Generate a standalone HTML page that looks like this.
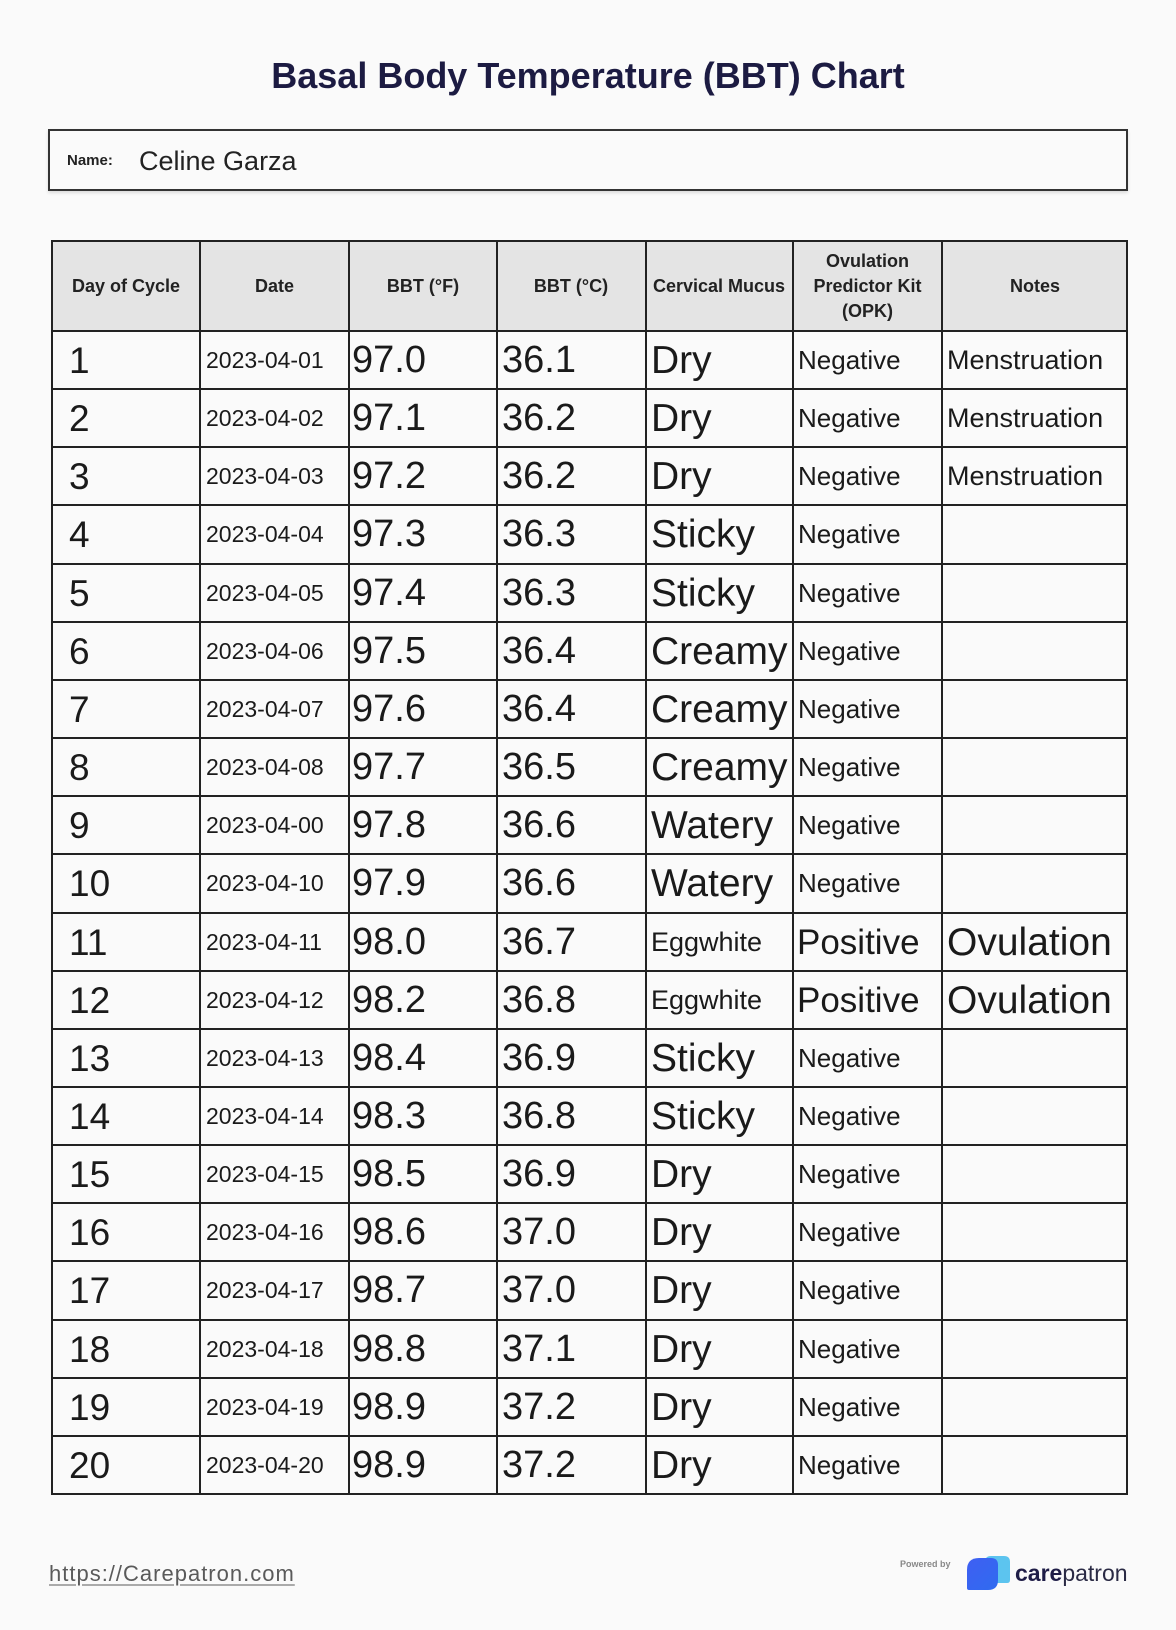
<!DOCTYPE html>
<html>
<head>
<meta charset="utf-8">
<style>
  html,body{margin:0;padding:0;}
  body{width:1176px;height:1630px;background:#fafafa;position:relative;overflow:hidden;font-family:"Liberation Sans",Arial,sans-serif;color:#1a1a1a;}
  .abs{position:absolute;}
  .title{position:absolute;left:0;top:56px;width:1176px;text-align:center;font-size:36px;line-height:40px;font-weight:bold;color:#1c1b42;}
  .namebox{position:absolute;left:48px;top:129px;width:1080px;height:62px;box-sizing:border-box;border:2px solid #333;box-shadow:0 2px 3px rgba(0,0,0,0.12);background:#fafafa;}
  .namelbl{position:absolute;left:67px;top:150px;line-height:22px;font-size:15px;font-weight:bold;color:#222;}
  .nameval{position:absolute;left:139px;top:143px;line-height:36px;font-size:27px;color:#222;}
  .hdrbg{position:absolute;left:52px;top:241px;width:1075px;height:90px;background:#e4e4e4;}
  .vl{position:absolute;top:240px;width:2px;height:1255px;background:#222;}
  .hl{position:absolute;left:51px;width:1077px;height:2px;background:#222;}
  .hd{position:absolute;top:241px;height:90px;display:flex;align-items:center;justify-content:center;text-align:center;font-weight:bold;font-size:18px;line-height:25px;color:#222;}
  .row{position:absolute;left:0;width:1176px;height:58px;line-height:59px;}
  .row span{position:absolute;top:0;white-space:nowrap;color:#1a1a1a;}
  .c1{left:69px;font-size:37px;}
  .c2{left:206px;font-size:23px;}
  .c3{left:352px;font-size:38px;}
  .c4{left:502px;font-size:38px;}
  .c5{left:651px;font-size:39px;}
  .c5.s{font-size:27px;}
  .c6{left:798px;font-size:26px;}
  .c6.p{left:797px;font-size:35px;}
  .c7{left:947px;font-size:27px;}
  .c7.o{font-size:39px;}
  .url{position:absolute;left:49px;top:1560px;line-height:28px;font-size:22px;letter-spacing:1px;color:#5a5a5a;text-decoration:underline;text-decoration-color:#aaa;text-decoration-thickness:2px;text-underline-offset:3px;}
  .pow{position:absolute;left:900px;top:1559px;font-size:9px;line-height:10px;font-weight:bold;color:#888;}
  .brand{position:absolute;left:1015px;top:1558px;font-size:23px;line-height:30px;color:#2a2a44;}
  .brand b{color:#1f1d47;}
</style>
</head>
<body>
  <div class="title">Basal Body Temperature (BBT) Chart</div>

  <div class="namebox"></div>
  <div class="namelbl">Name:</div>
  <div class="nameval">Celine Garza</div>

  <div class="hdrbg"></div>

  <div class="hd" style="left:52px;width:148px;">Day of Cycle</div>
  <div class="hd" style="left:200px;width:149px;">Date</div>
  <div class="hd" style="left:349px;width:148px;">BBT (°F)</div>
  <div class="hd" style="left:497px;width:148px;">BBT (°C)</div>
  <div class="hd" style="left:645px;width:148px;">Cervical Mucus</div>
  <div class="hd" style="left:793px;width:149px;">Ovulation<br>Predictor Kit<br>(OPK)</div>
  <div class="hd" style="left:942px;width:186px;">Notes</div>

  <div class="vl" style="left:51px;"></div>
  <div class="vl" style="left:199px;"></div>
  <div class="vl" style="left:348px;"></div>
  <div class="vl" style="left:496px;"></div>
  <div class="vl" style="left:645px;"></div>
  <div class="vl" style="left:792px;"></div>
  <div class="vl" style="left:941px;"></div>
  <div class="vl" style="left:1126px;"></div>

  <div class="hl" style="top:240px;"></div>
  <div class="hl" style="top:330px;"></div>
  <div class="hl" style="top:388.15px;"></div>
  <div class="hl" style="top:446.3px;"></div>
  <div class="hl" style="top:504.45px;"></div>
  <div class="hl" style="top:562.6px;"></div>
  <div class="hl" style="top:620.75px;"></div>
  <div class="hl" style="top:678.9px;"></div>
  <div class="hl" style="top:737.05px;"></div>
  <div class="hl" style="top:795.2px;"></div>
  <div class="hl" style="top:853.35px;"></div>
  <div class="hl" style="top:911.5px;"></div>
  <div class="hl" style="top:969.65px;"></div>
  <div class="hl" style="top:1027.8px;"></div>
  <div class="hl" style="top:1085.95px;"></div>
  <div class="hl" style="top:1144.1px;"></div>
  <div class="hl" style="top:1202.25px;"></div>
  <div class="hl" style="top:1260.4px;"></div>
  <div class="hl" style="top:1318.55px;"></div>
  <div class="hl" style="top:1376.7px;"></div>
  <div class="hl" style="top:1434.85px;"></div>
  <div class="hl" style="top:1493px;"></div>

  <div class="row" style="top:331px;"><span class="c1">1</span><span class="c2">2023-04-01</span><span class="c3">97.0</span><span class="c4">36.1</span><span class="c5">Dry</span><span class="c6">Negative</span><span class="c7">Menstruation</span></div>
  <div class="row" style="top:389.15px;"><span class="c1">2</span><span class="c2">2023-04-02</span><span class="c3">97.1</span><span class="c4">36.2</span><span class="c5">Dry</span><span class="c6">Negative</span><span class="c7">Menstruation</span></div>
  <div class="row" style="top:447.3px;"><span class="c1">3</span><span class="c2">2023-04-03</span><span class="c3">97.2</span><span class="c4">36.2</span><span class="c5">Dry</span><span class="c6">Negative</span><span class="c7">Menstruation</span></div>
  <div class="row" style="top:505.45px;"><span class="c1">4</span><span class="c2">2023-04-04</span><span class="c3">97.3</span><span class="c4">36.3</span><span class="c5">Sticky</span><span class="c6">Negative</span></div>
  <div class="row" style="top:563.6px;"><span class="c1">5</span><span class="c2">2023-04-05</span><span class="c3">97.4</span><span class="c4">36.3</span><span class="c5">Sticky</span><span class="c6">Negative</span></div>
  <div class="row" style="top:621.75px;"><span class="c1">6</span><span class="c2">2023-04-06</span><span class="c3">97.5</span><span class="c4">36.4</span><span class="c5">Creamy</span><span class="c6">Negative</span></div>
  <div class="row" style="top:679.9px;"><span class="c1">7</span><span class="c2">2023-04-07</span><span class="c3">97.6</span><span class="c4">36.4</span><span class="c5">Creamy</span><span class="c6">Negative</span></div>
  <div class="row" style="top:738.05px;"><span class="c1">8</span><span class="c2">2023-04-08</span><span class="c3">97.7</span><span class="c4">36.5</span><span class="c5">Creamy</span><span class="c6">Negative</span></div>
  <div class="row" style="top:796.2px;"><span class="c1">9</span><span class="c2">2023-04-00</span><span class="c3">97.8</span><span class="c4">36.6</span><span class="c5">Watery</span><span class="c6">Negative</span></div>
  <div class="row" style="top:854.35px;"><span class="c1">10</span><span class="c2">2023-04-10</span><span class="c3">97.9</span><span class="c4">36.6</span><span class="c5">Watery</span><span class="c6">Negative</span></div>
  <div class="row" style="top:912.5px;"><span class="c1">11</span><span class="c2">2023-04-11</span><span class="c3">98.0</span><span class="c4">36.7</span><span class="c5 s">Eggwhite</span><span class="c6 p">Positive</span><span class="c7 o">Ovulation</span></div>
  <div class="row" style="top:970.65px;"><span class="c1">12</span><span class="c2">2023-04-12</span><span class="c3">98.2</span><span class="c4">36.8</span><span class="c5 s">Eggwhite</span><span class="c6 p">Positive</span><span class="c7 o">Ovulation</span></div>
  <div class="row" style="top:1028.8px;"><span class="c1">13</span><span class="c2">2023-04-13</span><span class="c3">98.4</span><span class="c4">36.9</span><span class="c5">Sticky</span><span class="c6">Negative</span></div>
  <div class="row" style="top:1086.95px;"><span class="c1">14</span><span class="c2">2023-04-14</span><span class="c3">98.3</span><span class="c4">36.8</span><span class="c5">Sticky</span><span class="c6">Negative</span></div>
  <div class="row" style="top:1145.1px;"><span class="c1">15</span><span class="c2">2023-04-15</span><span class="c3">98.5</span><span class="c4">36.9</span><span class="c5">Dry</span><span class="c6">Negative</span></div>
  <div class="row" style="top:1203.25px;"><span class="c1">16</span><span class="c2">2023-04-16</span><span class="c3">98.6</span><span class="c4">37.0</span><span class="c5">Dry</span><span class="c6">Negative</span></div>
  <div class="row" style="top:1261.4px;"><span class="c1">17</span><span class="c2">2023-04-17</span><span class="c3">98.7</span><span class="c4">37.0</span><span class="c5">Dry</span><span class="c6">Negative</span></div>
  <div class="row" style="top:1319.55px;"><span class="c1">18</span><span class="c2">2023-04-18</span><span class="c3">98.8</span><span class="c4">37.1</span><span class="c5">Dry</span><span class="c6">Negative</span></div>
  <div class="row" style="top:1377.7px;"><span class="c1">19</span><span class="c2">2023-04-19</span><span class="c3">98.9</span><span class="c4">37.2</span><span class="c5">Dry</span><span class="c6">Negative</span></div>
  <div class="row" style="top:1435.85px;"><span class="c1">20</span><span class="c2">2023-04-20</span><span class="c3">98.9</span><span class="c4">37.2</span><span class="c5">Dry</span><span class="c6">Negative</span></div>

  <div class="url">https://Carepatron.com</div>
  <div class="pow">Powered by</div>
  <svg class="abs" style="left:960px;top:1550px;" width="56" height="46" viewBox="0 0 56 46">
    <defs>
      <linearGradient id="g1" x1="0" y1="0" x2="1" y2="1">
        <stop offset="0" stop-color="#3f5ff2"/>
        <stop offset="1" stop-color="#2f6bf0"/>
      </linearGradient>
    </defs>
    <path d="M25 12 Q25 6 31 6 L44 6 Q50 6 50 12 L50 30 Q50 33 47 33 L25 33 Z" fill="#5cc4ef"/>
    <path d="M7 38 L7 20 Q7 8 19 8 L31 8 Q38 8 38 15 L38 30 Q38 40 28 40 L9 40 Q7 40 7 38 Z" fill="url(#g1)"/>
  </svg>
  <div class="brand"><b>care</b>patron</div>
</body>
</html>
